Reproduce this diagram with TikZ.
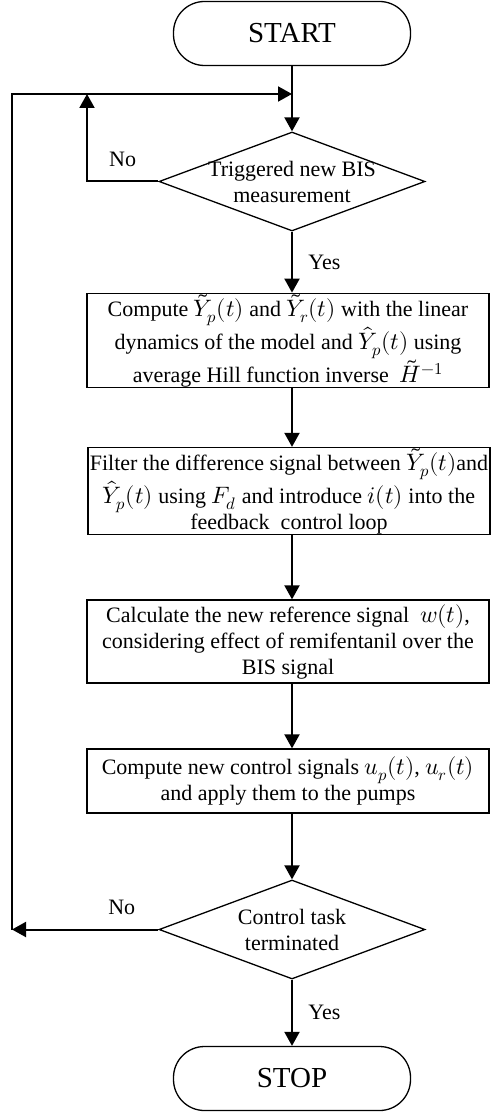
\documentclass[tikz,border=0pt]{standalone}
\usepackage{fontspec}
\setmainfont{Liberation Serif}
\usepackage{unicode-math}
\setmathfont{Latin Modern Math}[Scale=1.08]
\usetikzlibrary{arrows.meta,positioning,shapes}

\begin{document}
\begin{tikzpicture}[x=1pt,y=-1pt,font=\fontsize{22}{26}\selectfont]

\tikzstyle{term}=[draw,line width=1.3pt,rounded corners=31pt,minimum width=237pt,minimum height=64pt,font=\fontsize{29}{33}\selectfont]
\tikzstyle{proc}=[draw,line width=1.3pt,minimum width=402pt,align=center,inner sep=0pt]
\tikzstyle{decision}=[draw,diamond,shape aspect=2.7,line width=1.3pt,minimum width=266pt,minimum height=99pt,inner xsep=-15pt,inner ysep=-8pt,align=center]
\tikzstyle{flow}=[-{Triangle[width=15pt,length=14pt]},line width=2pt]

\useasboundingbox (0,0) rectangle (491,1115);

\node [term] (start) at (292,33.5) {START};
\node [decision] (trig) at (292,181.5) {Triggered new BIS\\measurement};
\node [proc,minimum height=85pt] (calc) at (288,340.5)
  {Compute $\tilde{Y}_p(t)$ and $\tilde{Y}_r(t)$ with the linear\\
   dynamics of the model and $\hat{Y}_p(t)$ using\\
   average Hill function inverse \ $\tilde{H}^{-1}$};
\node [proc,minimum height=82pt] (filt) at (289,491)
  {Filter the difference signal between $\tilde{Y}_p(t)$and\\
   $\hat{Y}_p(t)$ using $F_d$ and introduce $i(t)$ into the\\
   feedback \ control loop};
\node [proc,minimum height=83pt] (ref) at (288,641.5)
  {Calculate the new reference signal \ $w(t)$,\\
   considering effect of remifentanil over the\\
   BIS signal};
\node [proc,minimum height=64pt] (pump) at (288,781)
  {Compute new control signals $u_p(t)$, $u_r(t)$\\
   and apply them to the pumps};
\node [decision] (term) at (292,929.5) {Control task\\terminated};
\node [term] (stop) at (292,1078.5) {STOP};

\coordinate (merge) at (292,94);
\coordinate (noup) at (87,94);
\coordinate (lefttop) at (12,94);
\coordinate (leftbot) at (12,929.5);

\draw [flow] (start.south) -- (trig.north);
\draw [flow] (trig.west) -| node [pos=.25,above=10pt] {No} (noup);
\draw [flow] (trig.south) -- node [right=12pt] {Yes} (trig.south |- calc.north);
\draw [flow] (calc.south -| merge) -- (filt.north -| merge);
\draw [flow] (filt.south -| merge) -- (ref.north -| merge);
\draw [flow] (ref.south -| merge) -- (pump.north -| merge);
\draw [flow] (pump.south -| merge) -- (term.north);
\draw [flow] (term.west) -- node [pos=.25,above=10pt] {No} (leftbot);
\draw [flow] (leftbot) -- (lefttop) -- (merge);
\draw [flow] (term.south) -- node [right=12pt] {Yes} (stop.north);

\end{tikzpicture}
\end{document}
